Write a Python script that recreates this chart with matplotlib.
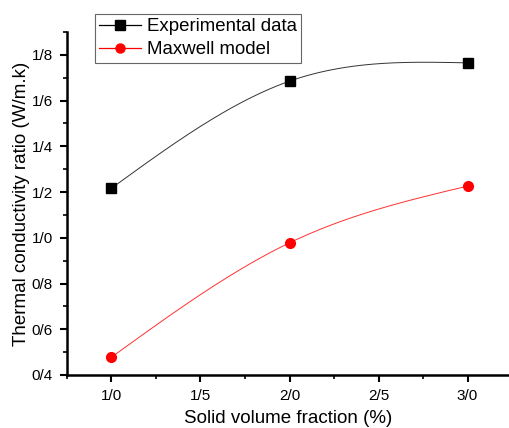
import numpy as np
import matplotlib
matplotlib.use("Agg")
import matplotlib.pyplot as plt
from matplotlib.ticker import FuncFormatter, MultipleLocator

plt.rcParams['font.family'] = ['Liberation Sans', 'DejaVu Sans']

x_vals = [1.0, 2.0, 3.0]
experimental = [1.217, 1.685, 1.765]
maxwell = [0.478, 0.978, 1.226]
series_names = ["Experimental data", "Maxwell model"]
x_label = "Solid volume fraction (%)"
y_label = "Thermal conductivity ratio (W/m.k)"


def natural_spline(x, y, n=200):
    x = np.asarray(x, float); y = np.asarray(y, float)
    k = len(x)
    h = np.diff(x)
    A = np.zeros((k, k)); r = np.zeros(k)
    A[0, 0] = 1; A[-1, -1] = 1
    for i in range(1, k - 1):
        A[i, i - 1] = h[i - 1]; A[i, i] = 2 * (h[i - 1] + h[i]); A[i, i + 1] = h[i]
        r[i] = 6 * ((y[i + 1] - y[i]) / h[i] - (y[i] - y[i - 1]) / h[i - 1])
    M = np.linalg.solve(A, r)
    xs = np.linspace(x[0], x[-1], n)
    ys = np.empty_like(xs)
    for j, xx in enumerate(xs):
        i = min(np.searchsorted(x, xx) - 1, k - 2); i = max(i, 0)
        t1 = x[i + 1] - xx; t0 = xx - x[i]; hi = h[i]
        ys[j] = (M[i] * t1 ** 3 + M[i + 1] * t0 ** 3) / (6 * hi) \
            + (y[i] / hi - M[i] * hi / 6) * t1 + (y[i + 1] / hi - M[i + 1] * hi / 6) * t0
    return xs, ys


fig = plt.figure(figsize=(5.09, 4.28), dpi=100)
ax = fig.add_axes([67 / 509, 53 / 428, 442 / 509, 343 / 428])

xs, ys = natural_spline(x_vals, experimental)
ax.plot(xs, ys, color='#333333', lw=0.7, zorder=2)
xs, ys = natural_spline(x_vals, maxwell)
ax.plot(xs, ys, color='#ff3030', lw=0.7, zorder=2)
ax.plot(x_vals, experimental, 's', color='black', ms=7, zorder=3)
ax.plot(x_vals, maxwell, 'o', color='#ff0000', ms=7, zorder=3)

h1, = ax.plot([], [], '-s', color='black', ms=6.5, lw=0.9)
h2, = ax.plot([], [], '-o', color='#ff0000', ms=6.5, lw=0.9)

ax.set_xlim(0.75, 0.75 + 442 / 178)
ax.set_ylim(0.4, 1.9)
ax.xaxis.set_major_locator(MultipleLocator(0.5))
ax.xaxis.set_minor_locator(MultipleLocator(0.25))
ax.yaxis.set_major_locator(MultipleLocator(0.2))
ax.yaxis.set_minor_locator(MultipleLocator(0.1))
fmt = FuncFormatter(lambda v, p: ("%.1f" % v).replace('.', '/'))
ax.xaxis.set_major_formatter(fmt)
ax.yaxis.set_major_formatter(fmt)
ax.set_xticks([1.0, 1.5, 2.0, 2.5, 3.0])

for s in ['top', 'right']:
    ax.spines[s].set_visible(False)
for s in ['left', 'bottom']:
    ax.spines[s].set_linewidth(1.8)
ax.tick_params(which='major', direction='out', length=5, width=1.5, labelsize=11, pad=5)
ax.tick_params(which='minor', direction='out', length=3, width=1.2)

ax.set_xlabel(x_label, fontsize=13.5, labelpad=5)
ax.set_ylabel(y_label, fontsize=13.5, labelpad=1.5)

leg = fig.legend([h1, h2], series_names, loc='upper left',
                 bbox_to_anchor=(95 / 509, 1 - 14 / 428), bbox_transform=fig.transFigure,
                 borderaxespad=0, fancybox=False, framealpha=1, edgecolor='#666666',
                 fontsize=13.4, handlelength=2.25, handletextpad=0.3, borderpad=0.24,
                 labelspacing=0.32)
leg.get_frame().set_linewidth(0.8)

fig.savefig('out.png', dpi=100)
